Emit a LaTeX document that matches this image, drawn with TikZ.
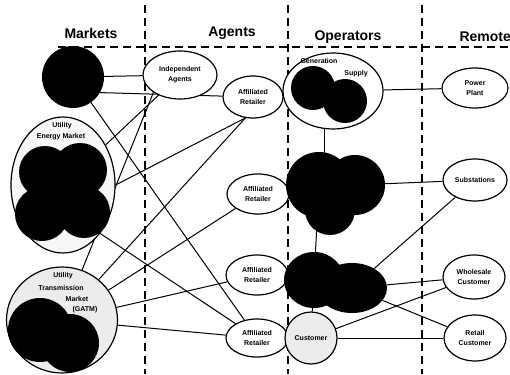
\documentclass[tikz,border=0pt]{standalone}
\usepackage{fontspec}
\setmainfont{Liberation Sans}
\usepackage{tikz}
\usetikzlibrary{positioning, shapes, backgrounds}
\tikzset{
	line width = 1pt,
	font = \fontsize{7}{10}\selectfont\bfseries,
	actor/.style={
		draw,
		ellipse,
		line width=1.2pt,
		fill=white,
		inner sep=1pt,
		align=center
	},
	shaded actor/.style={
		actor,
		fill=gray!15
	},
	blob/.style={
		circle,
		fill=black,
		inner sep=0pt
	},
	oval blob/.style={
		ellipse,
		fill=black,
		inner sep=0pt
	},
	link/.style={
		line width=1pt
	},
	divider/.style={
		line width=1.2pt,
		dash pattern=on 8pt off 5pt
	},
	heading/.style={
		font=\fontsize{14}{16}\selectfont\bfseries
	}
}

\begin{document}
\begin{tikzpicture}[x=1pt, y=-1pt]
\useasboundingbox (0,0) rectangle (510,374);

% ---
% Column headings
% ---
\node[heading] (hmarkets) at (91,33) {Markets};
\node[heading] (hagents) at (232,33) {Agents};
\node[heading] (hoperators) at (348,37) {Operators};
\node[heading, anchor=west] (hremote) at (456,37) {Remote};

% ---
% Markets
% ---
\node[blob, minimum size=62pt] (mk) at (73,77) {};

\node[actor, fill=gray!6, minimum width=104pt, minimum height=136pt] (energy) at (63,185) {};
\node[blob, minimum size=52pt] (e1) at (45,172) {};
\node[blob, minimum size=54pt] (e2) at (80,170) {};
\node[blob, minimum size=54pt] (e3) at (42,214) {};
\node[blob, minimum size=52pt] (e4) at (84,212) {};
\node[blob, minimum size=60pt] (e5) at (62,195) {};
\node (energyt1) at (62,126) {Utility};
\node (energyt2) at (61,137) {Energy Market};

\node[shaded actor, minimum width=111pt, minimum height=106pt] (grid) at (62,320) {};
\node[blob, minimum size=64pt] (g1) at (40,330) {};
\node[blob, minimum size=58pt] (g2) at (70,343) {};
\node (gridt1) at (63,276) {Utility};
\node (gridt2) at (61,288) {Transmission};
\node (gridt3) at (77,299) {Market};
\node (gridt4) at (85,310) {(GATM)};

% ---
% Agents
% ---
\node[actor, minimum width=74pt, minimum height=48pt] (ia) at (180,75) {Independent\\Agents};
\node[actor, minimum width=60pt, minimum height=42pt] (ar1) at (253,97) {Affiliated\\Retailer};
\node[actor, minimum width=62pt, minimum height=40pt] (ar2) at (258,194) {Affiliated\\Retailer};
\node[actor, minimum width=62pt, minimum height=40pt] (ar3) at (257,275) {Affiliated\\Retailer};
\node[actor, minimum width=62pt, minimum height=38pt] (ar4) at (257,338) {Affiliated\\Retailer};

% ---
% Operators
% ---
\node[actor, minimum width=100pt, minimum height=76pt] (gen) at (333,91) {};
\node[blob, minimum size=44pt] (gs1) at (313,88) {};
\node[blob, minimum size=44pt] (gs2) at (345,101) {};
\node (gent1) at (319,61) {Generation};
\node (gent2) at (356,74) {Supply};

\node[blob, minimum size=66pt] (b2a) at (319,185) {};
\node[blob, minimum size=60pt] (b2b) at (355,185) {};
\node[blob, minimum size=50pt] (b2c) at (330,210) {};

\node[oval blob, minimum width=60pt, minimum height=56pt] (b3a) at (314,280) {};
\node[oval blob, minimum width=70pt, minimum height=50pt] (b3b) at (352,288) {};

\node[shaded actor, circle, minimum size=52pt] (cust) at (311,338) {Customer};

% ---
% Remote
% ---
\node[actor, minimum width=66pt, minimum height=40pt] (pp) at (475,88) {Power\\Plant};
\node[actor, minimum width=64pt, minimum height=42pt] (subst) at (475,180) {Substations};
\node[actor, minimum width=62pt, minimum height=44pt] (whole) at (474,277) {Wholesale\\Customer};
\node[actor, minimum width=62pt, minimum height=46pt] (retail) at (475,338) {Retail\\Customer};

\begin{scope}[on background layer]
% ---
% Column dividers
% ---
\draw[divider] (58,47) -- (510,47);
\draw[divider] (145,5) -- (145,374);
\draw[divider] (288,5) -- (288,374);
\draw[divider] (422,5) -- (422,374);

% ---
% Links
% ---
\draw[link] (mk) -- (ia);
\draw[link] (mk.-30) -- (ar1);
\draw[link] (mk) -- (ar4);
\draw[link] (ia) -- (energy);
\draw[link] (ia.south west) -- (grid);
\draw[link] (ar1.250) -- (energy.east);
\draw[link] (ar1.250) -- (grid);
\draw[link] (ar2) -- (grid);
\draw[link] (ar3) -- (grid);
\draw[link] (grid) -- (ar4);
\draw[link] (energy.south east) -- (ar4);

\draw[link] (gen) -- (pp);
\draw[link] (gen.258) -- (gen.258 |- b2a);
\draw[link] (b2b) -- (subst);
\draw[link] (b2a) -- (b3a);
\draw[link] (b3b) -- (subst);
\draw[link] (b3b) -- (whole);
\draw[link] (b3b) -- (retail);
\draw[link] (b3a) -- (cust);
\draw[link] (cust) -- (whole);
\draw[link] (cust) -- (retail);
\end{scope}

\end{tikzpicture}
\end{document}
